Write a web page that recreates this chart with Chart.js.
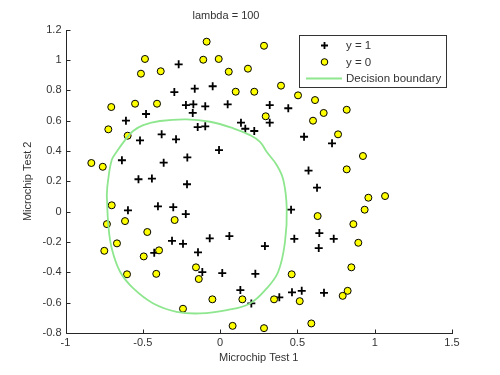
<!DOCTYPE html>
<html>
<head>
<meta charset="utf-8">
<script src="https://cdn.jsdelivr.net/npm/chart.js@4/dist/chart.umd.min.js"></script>
<style>
  html, body { margin: 0; padding: 0; background: #ffffff; }
  #wrap { width: 500px; height: 375px; }
</style>
</head>
<body>
<div id="wrap"><canvas id="c" width="500" height="375"></canvas></div>
<script>
// ---- data ----
const chartTitle = 'lambda = 100';
const xAxisTitle = 'Microchip Test 1';
const yAxisTitle = 'Microchip Test 2';
const legendLabels = ['y = 1', 'y = 0', 'Decision boundary'];

const xTicks = [-1, -0.5, 0, 0.5, 1, 1.5];
const yTicks = [-0.8, -0.6, -0.4, -0.2, 0, 0.2, 0.4, 0.6, 0.8, 1, 1.2];

// y = 1 (accepted) points
const posX = [-0.268, -0.296, -0.164, -0.048, -0.221, -0.173, -0.096, 0.049, -0.177, -0.479,
  -0.609, 0.135, 0.163, 0.221, -0.145, -0.096, -0.378, -0.518, -0.285, -0.007,
  -0.635, -0.365, -0.212, -0.528, -0.441, -0.214, 0.321, 0.441, 0.321, 0.543,
  0.724, 0.572, -0.596, -0.402, -0.303, -0.222, -0.311, -0.240, -0.067, 0.060,
  -0.426, -0.143, -0.115, 0.014, 0.228, 0.131, 0.202, 0.627, 0.459, 0.642,
  0.735, 0.480, 0.290, 0.638, 0.465, 0.528, 0.672, 0.383];
const posY = [0.972, 0.789, 0.811, 0.827, 0.703, 0.708, 0.695, 0.708, 0.651, 0.644,
  0.600, 0.587, 0.547, 0.532, 0.558, 0.563, 0.510, 0.470, 0.477, 0.406,
  0.339, 0.323, 0.358, 0.214, 0.218, 0.181, 0.703, 0.682, 0.587, 0.494,
  0.451, 0.271, 0.009, 0.035, 0.030, -0.016, -0.192, -0.212, -0.176, -0.161,
  -0.271, -0.268, -0.398, -0.405, -0.410, -0.517, -0.605, 0.158, 0.013, -0.141,
  -0.179, -0.179, -0.227, -0.240, -0.532, -0.522, -0.535, -0.565];

// y = 0 (rejected) points
const negX = [-0.087, -0.486, -0.109, -0.009, -0.512, -0.384, 0.056, 0.180, 0.101, 0.221,
  -0.704, -0.550, -0.408, -0.723, -0.598, -0.833, -0.759, 0.284, 0.394, 0.504,
  0.614, 0.819, 0.670, 0.295, 0.601, 0.763, 0.924, 0.819, -0.701, -0.732,
  -0.615, -0.471, -0.294, -0.667, -0.749, -0.494, -0.395, -0.156, -0.138, -0.602,
  -0.413, -0.050, 0.144, -0.240, 0.081, 0.959, 1.067, 0.935, 0.631, 0.862,
  0.894, 0.849, 0.463, 0.825, 0.793, 0.349, 0.515, 0.590, 0.284];
const negY = [1.121, 1.007, 1.002, 1.007, 0.910, 0.926, 0.923, 0.943, 0.791, 0.791,
  0.690, 0.712, 0.712, 0.543, 0.501, 0.321, 0.296, 1.094, 0.831, 0.767,
  0.736, 0.672, 0.651, 0.629, 0.600, 0.510, 0.367, 0.279, 0.042, -0.082,
  -0.062, -0.134, -0.055, -0.209, -0.258, -0.295, -0.255, -0.367, -0.444, -0.413,
  -0.410, -0.578, -0.578, -0.640, -0.753, 0.092, 0.103, 0.013, -0.029, -0.082,
  -0.205, -0.367, -0.413, -0.522, -0.555, -0.578, -0.590, -0.737, -0.768];

// decision boundary contour, traced around the closed curve
const boundaryX = [-0.733, -0.727, -0.701, -0.669, -0.615, -0.563, -0.497, -0.389, -0.216, -0.065,
  0.085, 0.193, 0.258, 0.301, 0.366, 0.409, 0.431, 0.420, 0.376, 0.301,
  0.193, 0.043, -0.130, -0.281, -0.432, -0.561, -0.647, -0.701, -0.723, -0.733];
const boundaryY = [0.110, 0.187, 0.340, 0.395, 0.472, 0.532, 0.571, 0.598, 0.609, 0.593,
  0.550, 0.505, 0.461, 0.395, 0.308, 0.209, 0.022, -0.198, -0.396, -0.506,
  -0.605, -0.649, -0.671, -0.660, -0.605, -0.506, -0.396, -0.242, -0.088, 0.110];

// ---- styling ----
const FONT = "'Liberation Sans', Arial, Helvetica, sans-serif";
const TEXT = '#333333';
const AXIS = '#262626';
const GREEN = '#8ee68e';
const YELLOW = '#ffff00';

const toPts = (xs, ys) => xs.map((x, i) => ({ x: x, y: ys[i] }));

// axes drawn MATLAB-style: left and bottom lines with inward ticks
const axesPlugin = {
  id: 'matlabAxes',
  afterDatasetsDraw(chart) {
    const { ctx, chartArea: a, scales } = chart;
    const xs = scales.x, ys = scales.y;
    ctx.save();
    ctx.strokeStyle = AXIS;
    ctx.lineWidth = 1;
    ctx.beginPath();
    const L = Math.round(a.left) + 0.5, B = Math.round(a.bottom) + 0.5;
    ctx.moveTo(L, Math.round(a.top));
    ctx.lineTo(L, B);
    ctx.lineTo(Math.round(a.right) + 1, B);
    const tl = 4;
    xTicks.forEach(v => {
      const px = Math.round(xs.getPixelForValue(v)) + 0.5;
      ctx.moveTo(px, B);
      ctx.lineTo(px, B - tl);
    });
    yTicks.forEach(v => {
      const py = Math.round(ys.getPixelForValue(v)) + 0.5;
      ctx.moveTo(L, py);
      ctx.lineTo(L + tl, py);
    });
    ctx.stroke();
    ctx.restore();
  },
  afterDraw(chart) {
    // legend box in the upper right of the axes
    const { ctx } = chart;
    const bx = 299.5, by = 35.5, bw = 147, bh = 52;
    ctx.save();
    ctx.fillStyle = '#ffffff';
    ctx.fillRect(bx, by, bw, bh);
    ctx.strokeStyle = '#333333';
    ctx.lineWidth = 1;
    ctx.strokeRect(bx, by, bw, bh);
    const rows = [45.5, 62, 78.5];
    const mx = 324.5;
    // plus marker
    ctx.strokeStyle = '#000000';
    ctx.lineWidth = 1.8;
    ctx.beginPath();
    ctx.moveTo(mx - 3.5, rows[0]); ctx.lineTo(mx + 3.5, rows[0]);
    ctx.moveTo(mx, rows[0] - 3.5); ctx.lineTo(mx, rows[0] + 3.5);
    ctx.stroke();
    // circle marker
    ctx.beginPath();
    ctx.arc(mx, rows[1], 3.3, 0, Math.PI * 2);
    ctx.fillStyle = YELLOW;
    ctx.fill();
    ctx.lineWidth = 1;
    ctx.strokeStyle = '#000000';
    ctx.stroke();
    // line sample
    ctx.beginPath();
    ctx.strokeStyle = GREEN;
    ctx.lineWidth = 1.8;
    ctx.moveTo(306, rows[2]);
    ctx.lineTo(342, rows[2]);
    ctx.stroke();
    // labels
    ctx.fillStyle = TEXT;
    ctx.font = '11.5px ' + FONT;
    ctx.textAlign = 'left';
    ctx.textBaseline = 'middle';
    legendLabels.forEach((t, i) => ctx.fillText(t, 346, rows[i] + 0.5));
    ctx.restore();
  }
};

new Chart(document.getElementById('c'), {
  type: 'scatter',
  data: {
    datasets: [
      {
        label: legendLabels[2],
        type: 'line',
        data: toPts(boundaryX, boundaryY),
        borderColor: GREEN,
        borderWidth: 1.8,
        pointRadius: 0,
        fill: false,
        tension: 0.4,
        showLine: true
      },
      {
        label: legendLabels[1],
        data: toPts(negX, negY),
        pointStyle: 'circle',
        pointRadius: 3.5,
        pointBackgroundColor: YELLOW,
        pointBorderColor: '#000000',
        pointBorderWidth: 1
      },
      {
        label: legendLabels[0],
        data: toPts(posX, posY),
        pointStyle: 'cross',
        pointRadius: 4,
        pointBorderColor: '#000000',
        pointBorderWidth: 1.8
      }
    ]
  },
  plugins: [axesPlugin],
  options: {
    responsive: false,
    animation: false,
    events: [],
    layout: { padding: { left: 0, right: 48, top: 0, bottom: 0 } },
    plugins: {
      legend: { display: false },
      tooltip: { enabled: false },
      title: {
        display: true,
        text: chartTitle,
        color: TEXT,
        font: { family: FONT, size: 11, weight: 'normal' },
        padding: { top: 9, bottom: 7.5 }
      }
    },
    scales: {
      x: {
        type: 'linear',
        min: -1, max: 1.5,
        afterBuildTicks: s => { s.ticks = xTicks.map(v => ({ value: v })); },
        afterFit: s => { s.height = 42; },
        grid: { display: false, drawTicks: false, tickLength: 0 },
        border: { display: false },
        ticks: {
          color: TEXT,
          padding: 3,
          maxRotation: 0,
          font: { family: FONT, size: 11 },
          callback: v => String(v)
        },
        title: {
          display: true,
          text: xAxisTitle,
          color: TEXT,
          font: { family: FONT, size: 11 },
          padding: { top: 0, bottom: 10 }
        }
      },
      y: {
        type: 'linear',
        min: -0.8, max: 1.2,
        afterBuildTicks: s => { s.ticks = yTicks.map(v => ({ value: v })); },
        afterFit: s => { s.width = 65.5; },
        grid: { display: false, drawTicks: false, tickLength: 0 },
        border: { display: false },
        ticks: {
          color: TEXT,
          padding: 4,
          font: { family: FONT, size: 11 },
          callback: v => String(Math.round(v * 10) / 10)
        },
        title: {
          display: true,
          text: yAxisTitle,
          color: TEXT,
          font: { family: FONT, size: 11 },
          padding: { top: 21, bottom: 0 }
        }
      }
    }
  }
});
</script>
</body>
</html>
